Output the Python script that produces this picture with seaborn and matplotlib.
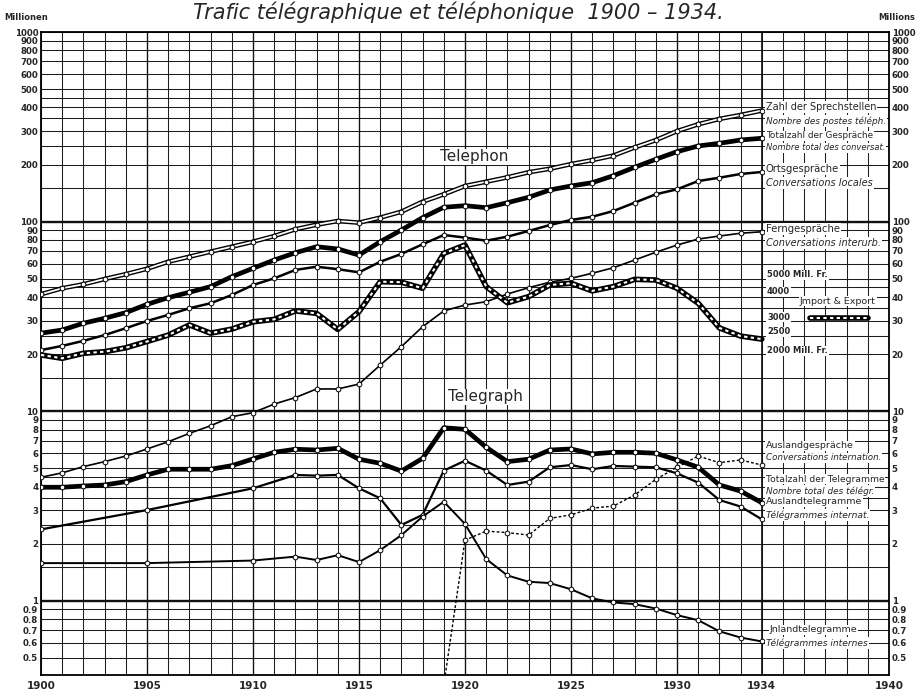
import matplotlib
matplotlib.use("Agg")
import matplotlib.pyplot as plt
import seaborn as sns
from matplotlib.lines import Line2D
from matplotlib.ticker import NullLocator

# ---------------- data ----------------
years = list(range(1900, 1935))

sprechstellen = [41.4, 44.5, 46.7, 49.8, 52.8, 56.4, 61.4, 65.3, 69.4, 73.7, 78.3, 83.9, 91.1,
                 96.3, 100.7, 98.7, 104.9, 112.8, 127.3, 139.3, 154.1, 162.3, 171.2, 182,
                 190, 201, 211, 223, 246, 269, 300, 326, 348, 365, 385]

gespraeche_total = [25.8, 26.8, 29.1, 30.9, 33.1, 36.6, 39.7, 42.4, 45.4, 51.2, 56.7, 62.7, 68.5,
                    73.7, 71.7, 66.6, 78.3, 90.3, 104.9, 119, 121.3, 118.4, 125.8, 134.3,
                    146.8, 154.1, 160.4, 174.6, 193.4, 213.1, 233.7, 250.5, 258.8, 269.4, 275.1]

ortsgespraeche = [21.0, 22.1, 23.5, 25.2, 27.4, 29.9, 32.2, 34.9, 37.1, 41.0, 46.3, 50.2, 55.6,
                  57.8, 56.1, 54.0, 61.4, 67.5, 75.9, 85.0, 82.3, 79.3, 83.3, 89.2,
                  95.9, 102, 106.1, 113.7, 125.8, 139.3, 148, 163.7, 170.4, 178.3, 182.7]

ferngespraeche = [4.48, 4.73, 5.10, 5.42, 5.80, 6.32, 6.90, 7.64, 8.38, 9.35, 9.82, 10.9, 11.8,
                  13.1, 13.1, 13.9, 17.5, 21.9, 27.9, 33.8, 36.3, 37.8, 41.5, 44.8,
                  47.9, 50.2, 53.4, 57.1, 62.7, 68.9, 75.2, 80.9, 83.9, 86.8, 88.4]

# Import & Export in Mill. Fr. (plotted on the same log grid, 2000 Mill. Fr. = 20)
import_export = [1980, 1900, 2020, 2060, 2160, 2330, 2520, 2850, 2580, 2710, 2960, 3050, 3380,
                 3280, 2700, 3350, 4820, 4790, 4450, 6800, 7520, 4540, 3730, 4020,
                 4630, 4730, 4310, 4540, 4960, 4920, 4450, 3710, 2750, 2490, 2400]

telegramme_total = [3.97, 3.97, 4.03, 4.08, 4.25, 4.61, 4.94, 4.94, 4.94, 5.16, 5.60, 6.07, 6.30,
                    6.24, 6.37, 5.58, 5.31, 4.83, 5.64, 8.18, 8.02, 6.45, 5.42, 5.58,
                    6.24, 6.32, 5.95, 6.07, 6.07, 6.00, 5.53, 5.06, 4.08, 3.79, 3.29]

years_tel = [1900, 1905, 1910] + list(range(1912, 1935))
auslandtelegramme = [2.38, 3.01, 3.92, 4.61, 4.57, 4.61, 3.92, 3.47, 2.51, 2.84, 4.86, 5.48,
                     4.86, 4.08, 4.25, 5.06, 5.20, 4.94, 5.14, 5.10, 5.06, 4.70, 4.20, 3.40,
                     3.14, 2.69]
inlandtelegramme = [1.58, 1.58, 1.63, 1.71, 1.64, 1.74, 1.60, 1.85, 2.22, 2.78, 3.33, 2.54,
                    1.66, 1.36, 1.26, 1.24, 1.15, 1.03, 0.98, 0.96, 0.91, 0.84, 0.79, 0.69,
                    0.64, 0.61]

years_ausl_gespr = list(range(1919, 1935))
auslandgespraeche = [0.36, 2.09, 2.33, 2.29, 2.22, 2.72, 2.84, 3.08, 3.16, 3.61, 4.37, 5.06,
                     5.80, 5.35, 5.53, 5.20]

grid_values = [0.5, 0.6, 0.7, 0.8, 0.9,
               1, 1.5, 2, 2.5, 3, 3.5, 4, 4.5, 5, 6, 7, 8, 9,
               10, 15, 20, 25, 30, 35, 40, 45, 50, 60, 70, 80, 90,
               100, 150, 200, 250, 300, 350, 400, 450, 500, 600, 700, 800, 900, 1000]
labelled_values = [0.5, 0.6, 0.7, 0.8, 0.9, 1, 2, 3, 4, 5, 6, 7, 8, 9, 10, 20, 30, 40, 50, 60,
                   70, 80, 90, 100, 200, 300, 400, 500, 600, 700, 800, 900, 1000]
year_labels = [1900, 1905, 1910, 1915, 1920, 1925, 1930, 1934, 1940]

title = "Trafic télégraphique et téléphonique  1900 – 1934."

# ---------------- figure ----------------
sns.set_style("white")
plt.rcParams["font.family"] = ["DejaVu Sans"]

W, H = 916, 693
fig = plt.figure(figsize=(W / 100, H / 100), dpi=100)
ax = fig.add_axes([41 / W, 1 - 675 / H, (889 - 41) / W, (675 - 32) / H])
ax.set_yscale("log")
ax.set_xlim(1900, 1940)
ax.set_ylim(0.406, 1000)

# grid
ax.yaxis.set_minor_locator(NullLocator())
ax.set_yticks(grid_values)
ax.set_yticklabels([("%g" % v) if v in labelled_values else "" for v in grid_values])
ax.set_xticks(list(range(1900, 1941)))
ax.set_xticklabels([str(y) if y in year_labels else "" for y in range(1900, 1941)])
ax.grid(True, color="#1e1e1e", linewidth=0.75)
ax.tick_params(axis="both", length=0)
ax.tick_params(axis="y", labelleft=True, labelright=True, left=False, right=False,
               labelsize=6.2, pad=2)
ax.tick_params(axis="x", labelsize=7.5, pad=4)
for t in ax.yaxis.get_major_ticks():
    t.label1.set_fontweight("bold")
    t.label2.set_fontweight("bold")
for t in ax.xaxis.get_major_ticks():
    t.label1.set_fontweight("bold")
for v in [1, 10, 100]:
    ax.axhline(v, color="#111", linewidth=1.7, zorder=1)
for y in range(1905, 1935, 5):
    ax.axvline(y, color="#111", linewidth=0.95, zorder=1)
ax.axvline(1934, color="#111", linewidth=1.2, zorder=1)
for s in ax.spines.values():
    s.set_color("black")
    s.set_linewidth(1.3)

mk = dict(marker="o", markersize=3.4, markerfacecolor="white",
          markeredgecolor="black", markeredgewidth=0.7)


def draw(x, y, lw, color="black", z=3, **kw):
    sns.lineplot(x=x, y=y, ax=ax, color=color, linewidth=lw, estimator=None,
                 sort=False, legend=False, zorder=z, **kw)


# Telephon
draw(years, sprechstellen, 3.3, z=3)
draw(years, sprechstellen, 1.3, color="white", z=4, **mk)
draw(years, gespraeche_total, 3.4, z=3, **mk)
draw(years, ortsgespraeche, 1.8, z=3, **mk)
draw(years, ferngespraeche, 1.2, z=3, **mk)
ie_scaled = [v / 100 for v in import_export]
draw(years, ie_scaled, 4.0, z=3)
draw(years, ie_scaled, 1.5, color="white", z=4, linestyle=(0, (1.6, 1.6)))

# Telegraph
draw(years, telegramme_total, 3.4, z=3, **mk)
draw(years_tel, auslandtelegramme, 1.6, z=3, **mk)
draw(years_tel, inlandtelegramme, 1.4, z=3, **mk)
draw(years_ausl_gespr, auslandgespraeche, 1.0, z=3, linestyle=(0, (2, 1.5)), **mk)

ax.set_xlabel("")
ax.set_ylabel("")

# ---------------- texts ----------------
def ptext(x, y, s, size=7, style="normal", weight="normal", ha="left", box=True):
    kw = dict(bbox=dict(facecolor="white", edgecolor="none", pad=0.6)) if box else {}
    fig.text(x / W, 1 - y / H, s, fontsize=size, fontstyle=style, fontweight=weight,
             ha=ha, va="center", zorder=10, **kw)


fig.text(0.5, 1 - 19 / H, title, fontsize=15, fontstyle="italic", ha="center",
         va="baseline")
ptext(4, 17, "Millionen", size=6, weight="bold", box=False)
ptext(878, 17, "Millions", size=6, weight="bold", box=False)

ptext(440, 157, "Telephon", size=11)
ptext(448, 397, "Telegraph", size=11)

right_labels = [
    (766, 107, "Zahl der Sprechstellen", 7, "normal"),
    (766, 121, "Nombre des postes téléph.", 6.4, "italic"),
    (766, 136, "Totalzahl der Gespräche", 6.4, "normal"),
    (766, 148, "Nombre total des conversat.", 6.0, "italic"),
    (766, 169, "Ortsgespräche", 7.2, "normal"),
    (766, 183, "Conversations locales", 7.0, "italic"),
    (766, 229, "Ferngespräche", 7.2, "normal"),
    (766, 243, "Conversations interurb.", 7.0, "italic"),
    (766, 446, "Auslandgespräche", 6.8, "normal"),
    (766, 458, "Conversations internation.", 6.3, "italic"),
    (766, 479, "Totalzahl der Telegramme", 6.6, "normal"),
    (766, 491, "Nombre total des télégr.", 6.4, "italic"),
    (766, 502, "Auslandtelegramme", 6.8, "normal"),
    (766, 515, "Télégrammes internat.", 6.6, "italic"),
    (770, 630, "Jnlandtelegramme", 6.8, "normal"),
    (766, 643, "Télégrammes internes", 6.6, "italic"),
]
for x, y, s, size, style in right_labels:
    ptext(x, y, s, size=size, style=style)

for y, s in [(275, "5000 Mill. Fr."), (292, "4000"), (317, "3000"), (332, "2500"),
             (351, "2000 Mill. Fr.")]:
    ptext(767, y, s, size=6, weight="bold")
ptext(800, 301, "Jmport & Export", size=6.8)

# legend key for Import & Export
fig.add_artist(Line2D([810 / W, 868 / W], [1 - 318 / H, 1 - 318 / H], color="black",
                      linewidth=4.0, zorder=11))
fig.add_artist(Line2D([810 / W, 868 / W], [1 - 318 / H, 1 - 318 / H], color="white",
                      linewidth=1.5, linestyle=(0, (1.6, 1.6)), zorder=12))

fig.savefig("out.png", dpi=100)
